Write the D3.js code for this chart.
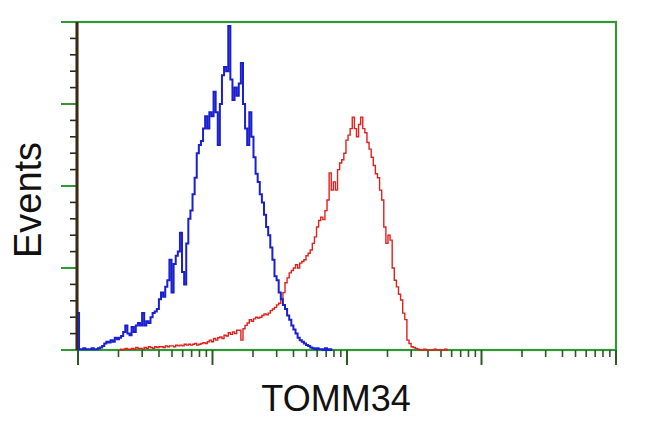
<!DOCTYPE html>
<html><head><meta charset="utf-8">
<script src="https://cdn.jsdelivr.net/npm/d3@7"></script>
<style>body{margin:0;background:#fff}svg{display:block}</style>
</head><body>
<svg id="c" width="650" height="432"></svg>
<script>
// channels per decade on the log intensity axis
const channelsPerDecade = 64;
const xDecades = [1, 10, 100, 1000, 10000];
const yMajorTicks = [0, 100, 200, 300, 400];
const yMinorTicks = d3.range(0, 401, 20);
const xLabel = "TOMM34";
const yLabel = "Events";

// blue (control) histogram: counts per channel starting at channel 0
const blueStart = 0;
const blueCounts = [45,1,1,2,1,1,1,2,1,1,
  2,3,5,8,10,9,12,10,15,13,
  15,17,22,30,20,18,28,22,30,33,
  30,45,30,35,33,40,45,47,50,62,
  70,65,77,85,110,70,105,115,120,143,
  95,80,130,160,170,190,210,240,250,255,
  270,285,270,290,285,315,290,250,300,335,
  345,340,395,330,305,320,310,325,350,300,
  270,250,290,260,235,215,205,190,180,165,
  150,140,125,110,90,85,70,62,55,50,
  42,37,30,25,20,15,12,10,8,6,
  5,3,2,1,2,1,1,0,2,0,1,0];

// red (TOMM34) histogram: counts per channel starting at channel 20
const redStart = 20;
const redCounts = [1,0,1,2,1,1,2,1,3,2,
  2,1,3,2,4,3,2,4,3,4,
  4,3,5,4,5,5,4,6,5,6,
  5,7,6,7,6,7,8,6,7,8,
  9,8,10,12,10,14,12,15,16,14,
  18,17,21,19,22,20,24,24,12,26,
  30,33,37,35,38,40,39,40,42,44,
  43,45,48,50,52,55,57,62,70,82,
  88,94,97,100,104,100,106,108,110,115,
  118,122,130,138,150,158,162,159,170,183,
  216,195,205,195,220,228,232,240,256,262,
  270,284,270,260,275,284,270,265,253,245,
  235,225,215,210,195,183,150,130,140,134,
  100,85,77,68,61,45,37,12,8,4,
  3,2,1,0,0,1,0,0,0,0,
  1,0,0,0,0,1,0];

const svg = d3.select("#c");
const L = 77, R = 616, T = 22, B = 350;
const x = d3.scaleLog().domain([1, 10000]).range([L + 1, R]);
const y = d3.scaleLinear().domain([0, 400]).range([B, T]);
const green = "#2f9a35";
const tickDark = "#2b5a22";

// frame
svg.append("rect").attr("x", L).attr("y", T).attr("width", R - L).attr("height", B - T)
  .attr("fill", "none").attr("stroke", green).attr("stroke-width", 2.2);

// x ticks
const xMinor = [];
xDecades.slice(0, -1).forEach(d => { for (let k = 2; k <= 9; k++) xMinor.push(d * k); });
svg.append("g").selectAll("line").data(xMinor).join("line")
  .attr("x1", d => x(d)).attr("x2", d => x(d)).attr("y1", B).attr("y2", B + 7)
  .attr("stroke", tickDark).attr("stroke-width", 1.6);
svg.append("g").selectAll("line").data(xDecades).join("line")
  .attr("x1", d => x(d)).attr("x2", d => x(d)).attr("y1", B).attr("y2", B + 15)
  .attr("stroke", tickDark).attr("stroke-width", 2);

// y ticks
svg.append("g").selectAll("line").data(yMinorTicks.filter(v => v % 100 !== 0)).join("line")
  .attr("x1", L - 7).attr("x2", L).attr("y1", d => y(d)).attr("y2", d => y(d))
  .attr("stroke", "#2d2a1a").attr("stroke-width", 1.6);
svg.append("g").selectAll("line").data(yMajorTicks).join("line")
  .attr("x1", L - 16).attr("x2", L).attr("y1", d => y(d)).attr("y2", d => y(d))
  .attr("stroke", green).attr("stroke-width", 2);

// left axis line (dark)
svg.append("line").attr("x1", L).attr("x2", L).attr("y1", T).attr("y2", B)
  .attr("stroke", "#3a2a12").attr("stroke-width", 3);

function series(start, counts) {
  return counts.map((c, i) => ({ v: Math.pow(10, (start + i) / channelsPerDecade), c }));
}
const line = d3.line().x(d => x(d.v)).y(d => y(d.c)).curve(d3.curveStep);

svg.append("path").datum(series(redStart, redCounts)).attr("d", line)
  .attr("fill", "none").attr("stroke", "#e0211d").attr("stroke-width", 1.4);
svg.append("path").datum(series(blueStart, blueCounts)).attr("d", line)
  .attr("fill", "none").attr("stroke", "#1a1fd0").attr("stroke-width", 2);

// labels
svg.append("text").attr("x", 336).attr("y", 411).attr("text-anchor", "middle")
  .attr("font-family", "Liberation Sans, Arial, sans-serif").attr("font-size", 36)
  .attr("fill", "#111").text(xLabel);
svg.append("text").attr("transform", "translate(41,200) rotate(-90)").attr("text-anchor", "middle")
  .attr("font-family", "Liberation Sans, Arial, sans-serif").attr("font-size", 38)
  .attr("fill", "#111").text(yLabel);
</script>
</body></html>
